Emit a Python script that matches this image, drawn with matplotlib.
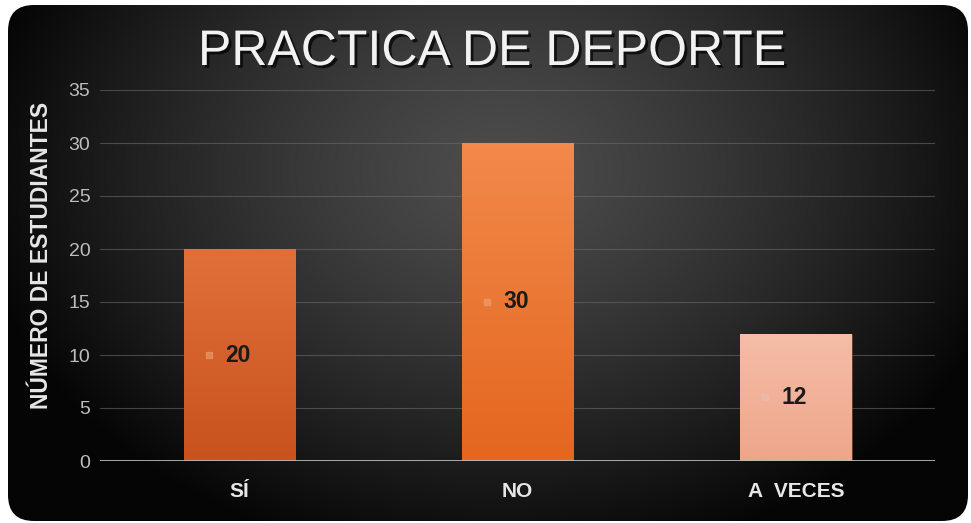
import numpy as np
import matplotlib
matplotlib.use("Agg")
import matplotlib.pyplot as plt
from matplotlib.patches import FancyBboxPatch
import matplotlib.patheffects as pe

categories = ["SÍ", "NO", "A  VECES"]
values = [20, 30, 12]
top_colors = ["#E0703A", "#F2894A", "#F6BDA7"]
bottom_colors = ["#C9521F", "#E4661F", "#EEA68B"]
yticks = [0, 5, 10, 15, 20, 25, 30, 35]

W, H = 971, 523
fig = plt.figure(figsize=(W / 100, H / 100), dpi=100)
fig.patch.set_facecolor("white")

# Background panel: rounded dark card with radial gradient
bg = fig.add_axes([0, 0, 1, 1])
bg.set_xlim(0, W)
bg.set_ylim(H, 0)
bg.axis("off")
yy, xx = np.mgrid[0:H, 0:W]
d = np.sqrt(((xx - 500) / 560.0) ** 2 + ((yy - 170) / 420.0) ** 2)
lum = np.clip(0.30 - 0.30 * d ** 1.3, 0.02, 0.30)
img = np.dstack([lum, lum, lum])
card = FancyBboxPatch((8, 5), 960, 516, boxstyle="round,pad=0,rounding_size=26",
                      transform=bg.transData, facecolor="none", edgecolor="none")
bg.add_patch(card)
im = bg.imshow(img, extent=(0, W, H, 0), aspect="auto", zorder=0)
im.set_clip_path(card)

# Plot area
x0, x1, y0, y1 = 100, 935, 461, 90
ax = fig.add_axes([x0 / W, (H - y0) / H, (x1 - x0) / W, (y0 - y1) / H])
ax.set_facecolor("none")
ax.set_xlim(-0.5, 2.5)
ax.set_ylim(0, 35)
for s in ax.spines.values():
    s.set_visible(False)
ax.set_yticks(yticks)
ax.yaxis.grid(True, color="#6a6a6a", linewidth=0.8, alpha=0.6)
ax.set_axisbelow(True)
ax.axhline(0, color="#b8b8b8", linewidth=2, zorder=3)
ax.tick_params(axis="y", length=0, pad=7, labelsize=14, labelcolor="#bdbdbd")
ax.tick_params(axis="x", length=0, pad=15, labelsize=15, labelcolor="#e6e6e6")
for lbl in ax.get_yticklabels():
    lbl.set_fontfamily("Liberation Sans")
ax.set_xticks(range(len(categories)))
ax.set_xticklabels(categories, fontweight="bold", fontfamily="Liberation Sans")

bars = ax.bar(range(len(categories)), values, width=0.4, color=top_colors, zorder=2,
              edgecolor="#3a2010", linewidth=0.4)
for b, ct, cb in zip(bars, top_colors, bottom_colors):
    c1 = np.array(matplotlib.colors.to_rgb(ct))
    c2 = np.array(matplotlib.colors.to_rgb(cb))
    t = np.linspace(0, 1, 100)[:, None]
    grad = (c1 * (1 - t) + c2 * t)[:, None, :]
    gx = b.get_x()
    gim = ax.imshow(grad, extent=(gx, gx + b.get_width(), 0, b.get_height()),
                    aspect="auto", zorder=2.1)
    gim.set_clip_path(b)

# Value labels with small series keys
for i, v in enumerate(values):
    ax.text(i - 0.05, v / 2, str(v), ha="left", va="center", fontsize=16.5,
            fontweight="bold", color="#1a1a1a", fontfamily="Liberation Sans", zorder=4)
    ax.plot([i - 0.11], [v / 2], marker="s", markersize=5,
            color="#f0a880" if i < 2 else "#e8c0b0", alpha=0.5, zorder=4)

ax.set_ylabel("NÚMERO DE ESTUDIANTES", fontsize=16.5, fontweight="bold",
              color="#e6e6e6", fontfamily="Liberation Sans")
ax.yaxis.set_label_coords(-0.056, 0.555)

fig.text(492 / W, 1 - 52 / H, "PRACTICA DE DEPORTE", ha="center", va="center",
         fontsize=36, color="#f2f2f2", fontfamily="Liberation Sans",
         path_effects=[pe.withSimplePatchShadow(offset=(2, -2), shadow_rgbFace="black", alpha=0.7)])

fig.savefig("out.png", dpi=100, facecolor="white")
